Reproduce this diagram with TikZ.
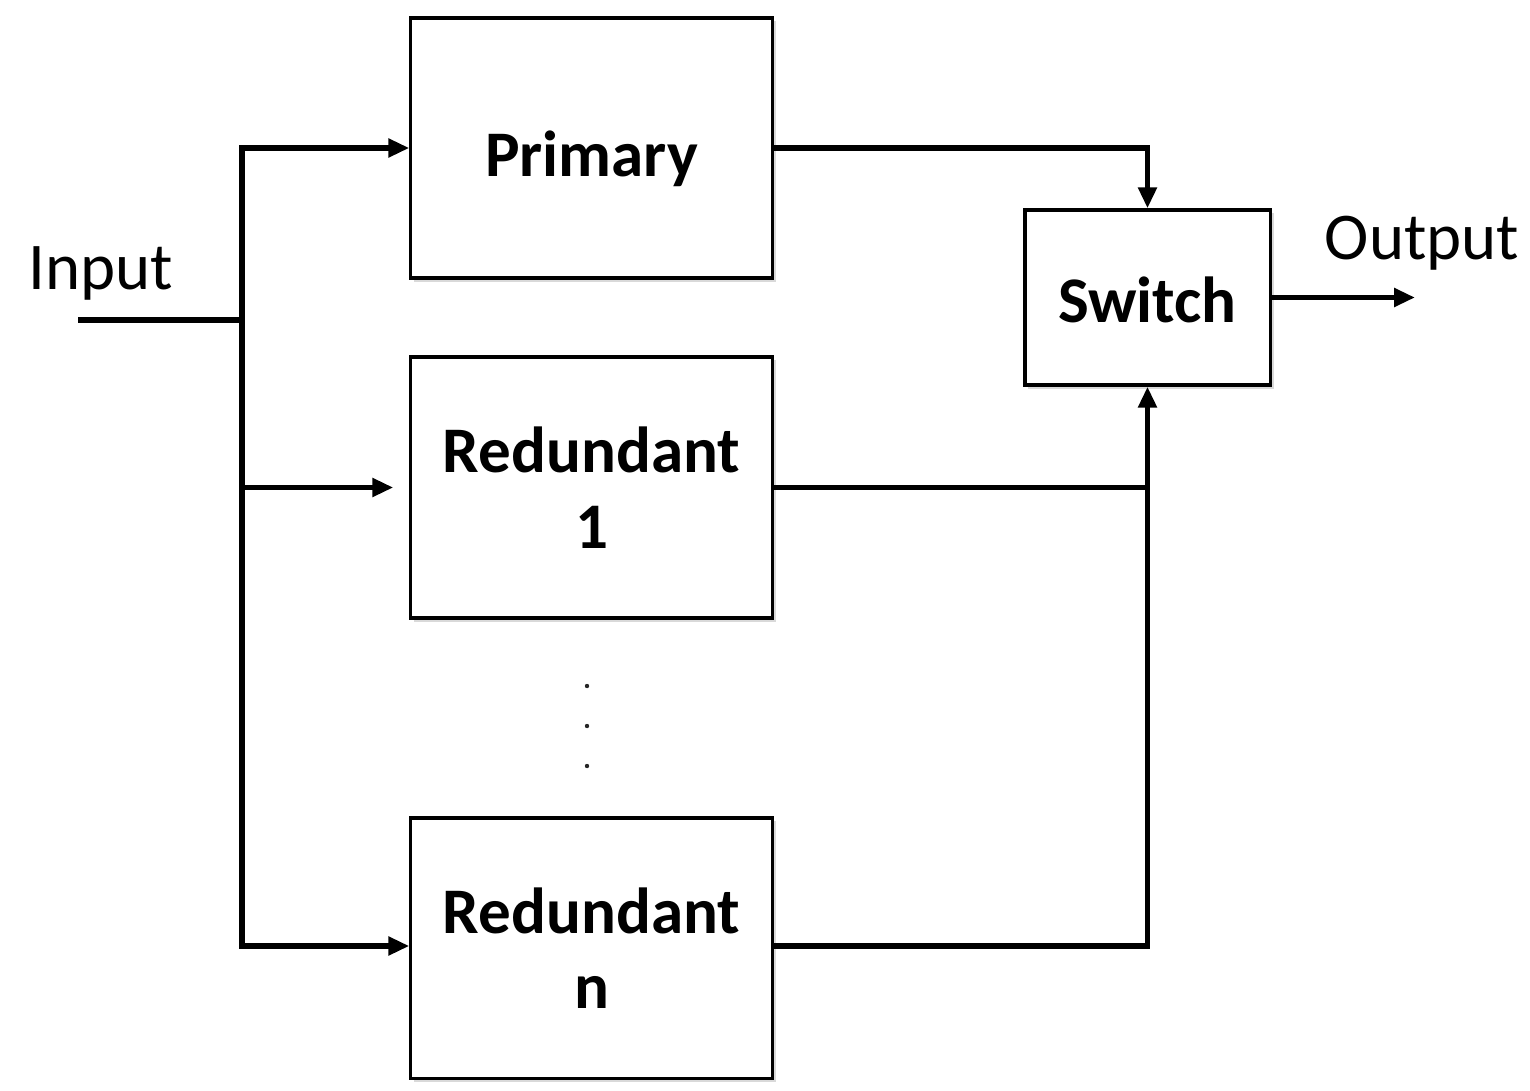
\documentclass[tikz,border=0pt]{standalone}
\usepackage{fontspec}
\setmainfont{Carlito}
\usetikzlibrary{arrows.meta,shadows}
\begin{document}
\begin{tikzpicture}[x=0.01cm,y=-0.01cm,
  blk/.style={draw=black, line width=0.9pt, fill=white, align=center, inner sep=0pt,
    font=\bfseries\fontsize{18.5}{21.5}\selectfont,
    drop shadow={shadow xshift=0.035cm, shadow yshift=-0.035cm, opacity=0.3, fill=gray}},
  wire/.style={line width=1.5pt},
  arr/.style={wire, -{Triangle[length=0.21cm,width=0.18cm]}},
  lbl/.style={font=\fontsize{19}{22}\selectfont, inner sep=0pt}]
\useasboundingbox (0,0) rectangle (1530,1091);

\node[blk, minimum width=3.61cm, minimum height=2.6cm, text height=0.56cm, text depth=0pt] (prim) at (591.5,148) {Primary};
\node[blk, minimum width=3.61cm, minimum height=2.61cm] (r1) at (591.5,487.5) {Redundant\\1};
\node[blk, minimum width=3.61cm, minimum height=2.6cm] (rn) at (591.5,948) {Redundant\\n};
\node[blk, minimum width=2.45cm, minimum height=1.75cm, text height=0.49cm, text depth=0pt] (sw) at (1147.5,297.5) {Switch};

\node[lbl] (inlbl) at (101,273) {Input};
\node[lbl] (outlbl) at (1422,243) {Output};

% input bus
\coordinate (in) at (78,320);
\coordinate (bus) at (242,320);
\coordinate (btop) at (bus |- prim.west);
\coordinate (b1) at (bus |- r1.west);
\coordinate (bbot) at (242,946);
\coordinate (rnin) at (rn.west |- bbot);
\draw[wire] (in) -- (bus);
\draw[arr] (bbot) |- (prim.west);
\draw[arr] (btop) |- (rnin);
\draw[arr, shorten >=0.16cm] (b1) -- (r1.west);

% outputs to switch
\coordinate (rnout) at (rn.east |- bbot);
\draw[arr] (prim.east) -| (sw.north);
\draw[wire] (r1.east) -- (r1.east -| sw.north);
\draw[arr] (rnout) -| (sw.south);

\coordinate (out) at (1415,297.5);
\draw[arr] (sw.east) -- (out);

% ellipsis dots
\foreach \yy in {686,726,766} \fill[black!85] (587,\yy) circle (0.022cm);
\end{tikzpicture}
\end{document}
